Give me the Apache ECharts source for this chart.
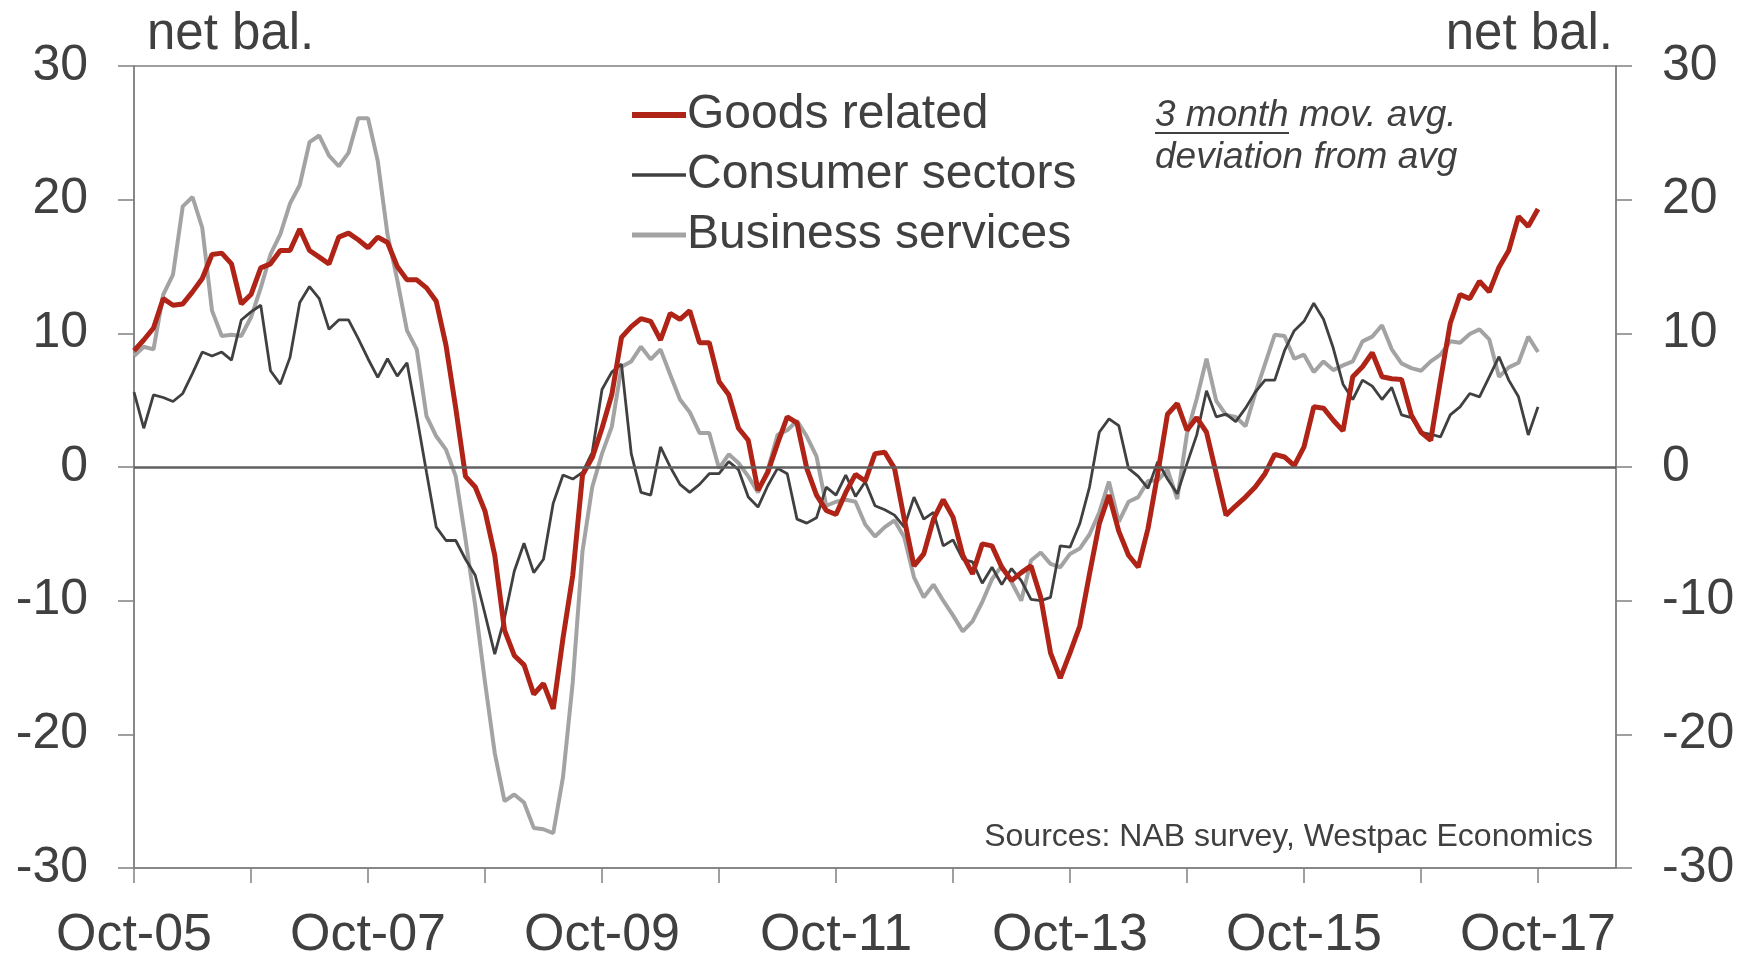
<!DOCTYPE html>
<html lang="en">

<head>
    <meta charset="UTF-8">
    <title>NAB survey by sector</title>
    <script src="https://cdn.jsdelivr.net/npm/echarts@6/dist/echarts.min.js"></script>
    <style>
        body { margin: 0; background: #fff; }
        #main { width: 1741px; height: 954px; }
    </style>
</head>

<body>
    <div id="main"></div>
    <script>
        // monthly, Oct-05 .. Oct-17 (axis runs on to Jun-18)
        var monthNames = ['Jan', 'Feb', 'Mar', 'Apr', 'May', 'Jun', 'Jul', 'Aug', 'Sep', 'Oct', 'Nov', 'Dec']
        var categories = []
        for (var k = 0; k < 153; k++) {
            var m = (9 + k) % 12
            var y = 2005 + Math.floor((9 + k) / 12)
            categories.push(monthNames[m] + '-' + String(y).slice(2))
        }

        var goodsRelated = [
            8.7, 9.5, 10.4, 12.6, 12.1, 12.2, 13.1, 14.1, 15.9, 16.0, 15.2, 12.2,
            12.9, 14.9, 15.2, 16.2, 16.2, 17.8, 16.2, 15.7, 15.2, 17.2, 17.5, 17.0,
            16.4, 17.2, 16.8, 15.0, 14.0, 14.0, 13.4, 12.4, 9.1, 4.4, -0.7, -1.5,
            -3.3, -6.6, -12.2, -14.1, -14.8, -17.0, -16.2, -18.1, -12.8, -8.1, -0.6, 0.7,
            2.9, 5.4, 9.7, 10.5, 11.1, 10.9, 9.5, 11.5, 11.05, 11.7, 9.3, 9.3,
            6.4, 5.4, 2.9, 2.0, -1.75, -0.4, 1.75, 3.75, 3.3, -0.1, -2.1, -3.25,
            -3.55, -1.9, -0.55, -1.05, 1.0, 1.1, -0.1, -3.9, -7.4, -6.5, -3.9, -2.45,
            -3.75, -6.6, -8.0, -5.75, -5.9, -7.5, -8.5, -7.9, -7.4, -9.75, -13.9, -15.8,
            -13.9, -11.9, -8.0, -4.25, -2.1, -4.8, -6.6, -7.5, -4.6, -0.5, 3.95, 4.75,
            2.75, 3.7, 2.6, -0.5, -3.6, -2.9, -2.25, -1.5, -0.5, 0.95, 0.75, 0.1,
            1.5, 4.5, 4.4, 3.5, 2.7, 6.75, 7.5, 8.55, 6.75, 6.6, 6.55, 3.9,
            2.6, 2.0, 6.5, 10.75, 12.9, 12.6, 13.9, 13.1, 14.95, 16.2, 18.75, 18.0,
            19.3
        ]

        var consumerSectors = [
            5.6, 2.9, 5.4, 5.2, 4.9, 5.5, 7.0, 8.6, 8.3, 8.6, 8.0, 11.0,
            11.6, 12.1, 7.2, 6.2, 8.2, 12.3, 13.5, 12.6, 10.3, 11.0, 11.0, 9.6,
            8.1, 6.7, 8.1, 6.8, 7.8, 3.8, -0.4, -4.5, -5.5, -5.5, -6.9, -8.1,
            -11.0, -14.0, -11.3, -7.8, -5.7, -7.9, -6.9, -2.7, -0.6, -0.9, -0.4, 1.1,
            5.8, 7.1, 7.7, 1.0, -1.9, -2.1, 1.5, 0, -1.3, -1.9, -1.3, -0.5,
            -0.5, 0.4, -0.2, -2.25, -3.0, -1.4, -0.1, -0.5, -3.9, -4.2, -3.8, -1.5,
            -2.1, -0.6, -2.2, -1.1, -2.9, -3.2, -3.6, -4.5, -2.25, -3.9, -3.4, -5.9,
            -5.45, -6.9, -7.1, -8.7, -7.5, -8.8, -7.6, -8.5, -9.9, -10.0, -9.75, -5.9,
            -6.0, -4.25, -1.5, 2.6, 3.6, 3.1, -0.1, -0.7, -1.6, 0.4, -0.9, -2.0,
            0.25, 2.4, 5.7, 3.75, 3.95, 3.4, 4.4, 5.6, 6.5, 6.5, 8.7, 10.2,
            10.9, 12.25, 11.05, 8.9, 6.2, 5.05, 6.5, 6.05, 5.05, 5.95, 3.9, 3.7,
            2.6, 2.45, 2.25, 3.9, 4.5, 5.5, 5.25, 6.75, 8.25, 6.5, 5.25, 2.4,
            4.5
        ]

        var businessServices = [
            8.3, 9.0, 8.8, 12.9, 14.4, 19.5, 20.2, 17.9, 11.7, 9.8, 9.9, 9.8,
            11.2, 13.4, 15.9, 17.4, 19.7, 21.1, 24.3, 24.8, 23.3, 22.5, 23.5, 26.1,
            26.1, 22.9, 17.4, 14.0, 10.2, 8.8, 3.8, 2.3, 1.3, -0.7, -5.4, -10.4,
            -16.1, -21.4, -25.0, -24.5, -25.1, -27.0, -27.1, -27.4, -23.2, -16.1, -6.3, -1.5,
            1.0, 3.0, 7.5, 7.9, 9.0, 8.05, 8.8, 6.9, 5.05, 4.1, 2.55, 2.55,
            -0.1, 0.95, 0.3, -0.7, -1.9, -0.2, 2.4, 2.75, 3.45, 2.3, 0.8, -2.9,
            -2.6, -2.45, -2.6, -4.3, -5.2, -4.5, -4.0, -5.25, -8.25, -9.75, -8.8, -10.0,
            -11.1, -12.3, -11.55, -10.1, -8.4, -7.4, -8.6, -10.0, -7.0, -6.4, -7.25, -7.5,
            -6.5, -6.1, -5.05, -3.4, -1.1, -4.1, -2.6, -2.25, -1.05, -1.0, -0.2, -2.4,
            2.5, 5.1, 8.1, 4.95, 3.9, 3.75, 3.05, 5.5, 7.7, 9.9, 9.8, 8.1,
            8.4, 7.1, 7.9, 7.25, 7.6, 7.9, 9.4, 9.75, 10.6, 8.8, 7.75, 7.4,
            7.2, 7.9, 8.4, 9.4, 9.3, 9.95, 10.3, 9.55, 6.75, 7.45, 7.8, 9.75,
            8.6
        ]

        var yTicks = [-30, 30, 10] // min, max, step

        var font = '"Liberation Sans", Arial, sans-serif'
        var textColor = '#404040'
        var axisColor = '#808080'
        var red = '#B02418', dark = '#404040', grey = '#A3A3A3'

        var chart = echarts.init(document.getElementById('main'))

        var valueAxis = function (pos) {
            return {
                type: 'value',
                position: pos,
                min: yTicks[0],
                max: yTicks[1],
                interval: yTicks[2],
                splitLine: { show: false },
                axisLine: { show: true, lineStyle: { color: axisColor, width: 1.5 } },
                axisTick: { show: true, length: 16, lineStyle: { color: axisColor, width: 1.5 } },
                axisLabel: { color: textColor, fontSize: 50, fontFamily: font, margin: 46 }
            }
        }

        var option = {
            backgroundColor: '#fff',
            animation: false,
            grid: {
                left: 134, right: 125, top: 66, bottom: 86,
                outerBoundsMode: 'none',
                containLabel: false,
                show: true, borderColor: axisColor, borderWidth: 1.5
            },
            legend: {
                orient: 'vertical',
                left: 624,
                top: 86,
                itemWidth: 54,
                itemHeight: 14,
                itemGap: 12,
                itemStyle: { opacity: 0 }, // line only, no marker
                data: [
                    { name: 'Goods related', lineStyle: { color: red, width: 6 } },
                    { name: 'Consumer sectors', lineStyle: { color: dark, width: 3.5 } },
                    { name: 'Business services', lineStyle: { color: grey, width: 5 } }
                ],
                textStyle: { color: textColor, fontSize: 48, fontFamily: font, padding: [0, 0, 0, -4] }
            },
            xAxis: {
                type: 'category',
                data: categories,
                boundaryGap: false,
                axisLine: { onZero: false, lineStyle: { color: axisColor, width: 1.5 } },
                axisTick: {
                    length: 15,
                    interval: function (idx) { return idx % 12 === 0 },
                    lineStyle: { color: axisColor, width: 1.5 }
                },
                axisLabel: {
                    interval: function (idx) { return idx % 24 === 0 },
                    color: textColor, fontSize: 52, fontFamily: font, margin: 42
                }
            },
            yAxis: [valueAxis('left'), valueAxis('right')],
            graphic: [
                {
                    type: 'text', left: 147, top: 9,
                    style: { text: 'net bal.', fill: textColor, font: '51px ' + font }
                },
                {
                    type: 'text', right: 128, top: 9,
                    style: { text: 'net bal.', fill: textColor, font: '51px ' + font }
                },
                {
                    type: 'text', left: 1155, top: 97,
                    style: { text: '3 month mov. avg.', fill: textColor, font: 'italic 37px ' + font }
                },
                {
                    type: 'text', left: 1155, top: 139,
                    style: { text: 'deviation from avg', fill: textColor, font: 'italic 37px ' + font }
                },
                {
                    // underline under "3 month"
                    type: 'line',
                    shape: { x1: 1155, y1: 133, x2: 1289, y2: 133 },
                    style: { stroke: textColor, lineWidth: 2 }
                },
                {
                    type: 'text', right: 148, top: 821,
                    style: { text: 'Sources: NAB survey, Westpac Economics', fill: textColor, font: '32px ' + font }
                }
            ],
            series: [
                {
                    name: 'Goods related',
                    type: 'line',
                    data: goodsRelated,
                    symbol: 'none',
                    z: 4,
                    lineStyle: { color: red, width: 5 },
                    itemStyle: { color: red },
                    markLine: {
                        silent: true,
                        symbol: 'none',
                        label: { show: false },
                        lineStyle: { color: '#606060', width: 2.5, type: 'solid' },
                        data: [{ yAxis: 0 }]
                    }
                },
                {
                    name: 'Consumer sectors',
                    type: 'line',
                    data: consumerSectors,
                    symbol: 'none',
                    z: 3,
                    lineStyle: { color: dark, width: 2.8 },
                    itemStyle: { color: dark }
                },
                {
                    name: 'Business services',
                    type: 'line',
                    data: businessServices,
                    symbol: 'none',
                    z: 2,
                    lineStyle: { color: grey, width: 4 },
                    itemStyle: { color: grey }
                }
            ]
        }

        chart.setOption(option)
    </script>
</body>

</html>
